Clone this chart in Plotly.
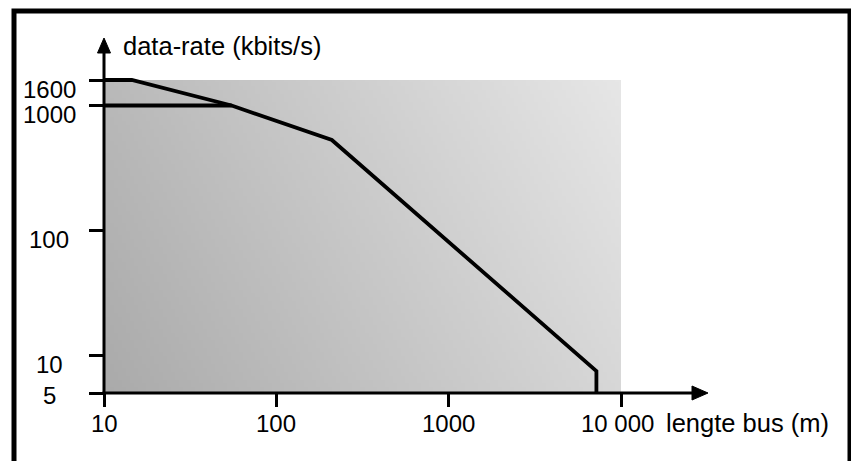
import base64
import math
import struct
import zlib

import plotly.graph_objects as go

# ---------------- data ----------------
x_ticks = [10, 100, 1000, 10000]
x_tick_labels = ["10", "100", "1000", "10 000"]
y_ticks = [5, 10, 100, 1000, 1600]
y_tick_labels = ["5", "10", "100", "1000", "1600"]

# maximum data-rate curve (bus length m, kbit/s)
limit_x = [10, 14.5, 55, 210, 7200, 7200]
limit_y = [1600, 1600, 1000, 530, 7.5, 5]

# 1000 kbit/s reference line
ref_x = [10, 55]
ref_y = [1000, 1000]

x_title = "lengte bus (m)"
y_title = "data-rate (kbits/s)"

# ---------------- layout geometry ----------------
OFF = 8                      # default page body margin
PAGE_W, PAGE_H = 859, 461
W, H = PAGE_W - OFF, PAGE_H - OFF
PLOT_L, PLOT_R, PLOT_T, PLOT_B = 104, 621, 76, 393   # page pixels
L = PLOT_L - OFF
T = PLOT_T - OFF
R = W - (PLOT_R - OFF)
B = H - (PLOT_B - OFF)
PW, PH = W - L - R, H - T - B
FONT = "Liberation Sans, Arial, Helvetica, sans-serif"
FS = 24
FS_T = 25.5

y_lo = math.log10(y_ticks[0])
y_top_data = math.log10(y_ticks[-1])
y_hi = y_top_data + 4.0 / PH * (y_top_data - y_lo) / (1 - 4.0 / PH)
x_lo = math.log10(x_ticks[0])
x_hi = math.log10(x_ticks[-1])


def X(px):
    """page pixel x -> paper coordinate"""
    return (px - PLOT_L) / PW


def Y(py):
    """page pixel y -> paper coordinate"""
    return (PLOT_B - py) / PH


# ---------------- gradient background (style) ----------------
def gradient_png(w, h):
    rows = []
    for j in range(h):
        v = 1 - j / (h - 1)  # 0 bottom, 1 top
        row = bytearray([0])
        for i in range(w):
            u = i / (w - 1)
            row.append(int(round(170 + 45 * u + 15 * v)))
        rows.append(bytes(row))
    raw = b"".join(rows)

    def chunk(tag, data):
        c = struct.pack(">I", len(data)) + tag + data
        return c + struct.pack(">I", zlib.crc32(tag + data) & 0xFFFFFFFF)

    png = b"\x89PNG\r\n\x1a\n"
    png += chunk(b"IHDR", struct.pack(">IIBBBBB", w, h, 8, 0, 0, 0, 0))
    png += chunk(b"IDAT", zlib.compress(raw, 9))
    png += chunk(b"IEND", b"")
    return "data:image/png;base64," + base64.b64encode(png).decode()


top_frac = (y_top_data - y_lo) / (y_hi - y_lo)

fig = go.Figure()

fig.add_trace(go.Scatter(x=ref_x, y=ref_y, mode="lines",
                         line=dict(color="black", width=3.8),
                         hoverinfo="skip", showlegend=False))
fig.add_trace(go.Scatter(x=limit_x, y=limit_y, mode="lines",
                         line=dict(color="black", width=3.8),
                         hoverinfo="skip", showlegend=False))

fig.add_layout_image(dict(
    source=gradient_png(128, 80), xref="paper", yref="paper",
    x=0, y=top_frac, sizex=1, sizey=top_frac,
    xanchor="left", yanchor="top", sizing="stretch", layer="below"))

shapes = [
    # x axis line + arrow head
    dict(type="line", xref="paper", yref="paper", x0=X(PLOT_L - 1.5), x1=X(694), y0=0, y1=0,
         line=dict(color="black", width=3)),
    dict(type="path", xref="paper", yref="paper",
         path=f"M{X(692)},{Y(386)} L{X(708)},{Y(393)} L{X(692)},{Y(400)} Z",
         fillcolor="black", line=dict(color="black", width=1)),
    # y axis line + arrow head
    dict(type="line", xref="paper", yref="paper", x0=0, x1=0, y0=Y(PLOT_B + 1.5), y1=Y(52),
         line=dict(color="black", width=3)),
    dict(type="path", xref="paper", yref="paper",
         path=f"M{X(97.5)},{Y(53)} L{X(104)},{Y(38)} L{X(110.5)},{Y(53)} Z",
         fillcolor="black", line=dict(color="black", width=1)),
    # outer frame
    dict(type="rect", xref="paper", yref="paper", x0=X(14), x1=X(850), y0=Y(11), y1=Y(475),
         line=dict(color="black", width=5), fillcolor="rgba(0,0,0,0)"),
]

annotations = []
for v, t in zip(y_ticks, y_tick_labels):
    shift = -2 if v == min(y_ticks) else -9
    annotations.append(dict(
        x=X(49), xref="paper", y=math.log10(v), yref="y", text=t,
        showarrow=False, xanchor="center", yanchor="middle", yshift=shift,
        font=dict(family=FONT, size=FS, color="black")))
for v, t in zip(x_ticks, x_tick_labels):
    annotations.append(dict(
        x=math.log10(v), xref="x", y=Y(423), yref="paper", text=t,
        showarrow=False, xanchor="center", yanchor="middle",
        xshift=-4 if v == max(x_ticks) else 0,
        font=dict(family=FONT, size=FS, color="black")))
annotations.append(dict(
    x=X(121), xref="paper", y=Y(46), yref="paper", text=y_title,
    showarrow=False, xanchor="left", yanchor="middle",
    font=dict(family=FONT, size=FS_T, color="black")))
annotations.append(dict(
    x=X(664), xref="paper", y=Y(423), yref="paper", text=x_title,
    showarrow=False, xanchor="left", yanchor="middle",
    font=dict(family=FONT, size=FS_T, color="black")))

fig.update_layout(
    width=W, height=H, autosize=False,
    margin=dict(l=L, r=R, t=T, b=B, pad=0),
    paper_bgcolor="white", plot_bgcolor="rgba(0,0,0,0)",
    shapes=shapes, annotations=annotations, showlegend=False,
    xaxis=dict(type="log", range=[x_lo, x_hi], tickvals=x_ticks,
               ticks="outside", ticklen=13, tickwidth=3, tickcolor="black",
               showticklabels=False, showline=False, showgrid=False, zeroline=False,
               fixedrange=True),
    yaxis=dict(type="log", range=[y_lo, y_hi], tickvals=y_ticks,
               ticks="outside", ticklen=14, tickwidth=3, tickcolor="black",
               showticklabels=False, showline=False, showgrid=False, zeroline=False,
               fixedrange=True),
)

fig.write_html("out.html")
